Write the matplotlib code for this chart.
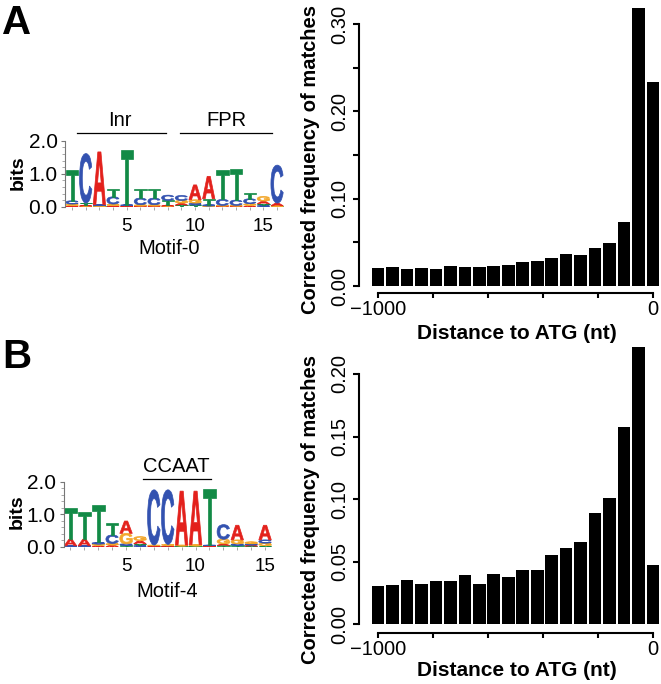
import numpy as np
import matplotlib as mpl
mpl.use('Agg')
import matplotlib.pyplot as plt
from matplotlib.textpath import TextPath
from matplotlib.font_manager import FontProperties
from matplotlib.patches import PathPatch
from matplotlib.transforms import Affine2D

mpl.rcParams['font.family'] = ['Liberation Sans', 'DejaVu Sans']

# ---- data ----
# histogram bin centres (nt upstream of ATG)
dist_centers = np.linspace(-1000, 0, 20)
freq_motif0 = [0.0206, 0.022, 0.020, 0.0206, 0.019, 0.0225, 0.0214, 0.022, 0.0233, 0.024,
               0.027, 0.0287, 0.032, 0.037, 0.036, 0.043, 0.049, 0.073, 0.318, 0.234]
freq_motif4 = [0.0306, 0.0312, 0.0354, 0.032, 0.0346, 0.0346, 0.039, 0.0325, 0.040, 0.0378,
               0.0437, 0.0434, 0.0554, 0.0607, 0.0658, 0.0887, 0.1012, 0.158, 0.2218, 0.0471]

# sequence logo heights (bits) per position, Motif-0
m0_A = [0.03, 0.03, 1.60, 0.03, 0.02, 0.02, 0.02, 0.03, 0.06, 0.45, 0.68, 0.02, 0.02, 0.04, 0.08, 0.08]
m0_C = [0.10, 1.50, 0.03, 0.22, 0.03, 0.20, 0.20, 0.16, 0.15, 0.06, 0.04, 0.18, 0.16, 0.15, 0.04, 1.15]
m0_G = [0.05, 0.02, 0.02, 0.05, 0.01, 0.04, 0.04, 0.02, 0.08, 0.10, 0.02, 0.02, 0.02, 0.05, 0.14, 0.02]
m0_T = [0.92, 0.06, 0.01, 0.24, 1.65, 0.28, 0.28, 0.14, 0.05, 0.05, 0.18, 0.88, 0.95, 0.18, 0.05, 0.01]

# Motif-4
m4_A = [0.20, 0.20, 0.04, 0.05, 0.38, 0.10, 0.02, 0.03, 1.66, 1.65, 0.02, 0.05, 0.45, 0.03, 0.45]
m4_C = [0.02, 0.02, 0.05, 0.26, 0.05, 0.04, 1.70, 1.68, 0.01, 0.01, 0.02, 0.45, 0.05, 0.04, 0.10]
m4_G = [0.01, 0.01, 0.04, 0.05, 0.32, 0.12, 0.02, 0.03, 0.03, 0.04, 0.01, 0.14, 0.12, 0.06, 0.08]
m4_T = [0.95, 0.85, 1.15, 0.36, 0.04, 0.05, 0.01, 0.01, 0.01, 0.01, 1.72, 0.04, 0.04, 0.02, 0.03]

base_colors = {'A': '#e3211c', 'C': '#3352b0', 'G': '#f3a72b', 'T': '#128a46'}

W, H = 661, 684
fig = plt.figure(figsize=(W / 100., H / 100.), dpi=100)


def px_axes(left, top, right, bottom):
    # axes from pixel box (image coords)
    return fig.add_axes([left / W, 1 - bottom / H, (right - left) / W, (bottom - top) / H])


def ftext(x, y, s, **kw):
    fig.text(x / W, 1 - y / H, s, ha='center', va='center', **kw)


letter_font = FontProperties(family='Liberation Sans', weight='bold')
letter_paths = {b: TextPath((0, 0), b, size=1, prop=letter_font) for b in 'ACGT'}


def draw_letter(ax, base, x, y0, h, width=0.9):
    tp = letter_paths[base]
    ext = tp.get_extents()
    t = (Affine2D().translate(-ext.x0, -ext.y0)
         .scale(width / ext.width, h / ext.height)
         .translate(x - width / 2., y0))
    c = base_colors[base]
    ax.add_patch(PathPatch(t.transform_path(tp), fc=c, ec=c, lw=0.5))


def draw_logo(ax, A, C, G, T):
    n = len(A)
    for i in range(n):
        col = {'A': A[i], 'C': C[i], 'G': G[i], 'T': T[i]}
        y = 0
        for b in sorted(col, key=col.get):
            draw_letter(ax, b, i + 1, y, col[b])
            y += col[b]
    ax.set_xlim(0.5, n + 0.5)
    ax.set_ylim(0, 2)
    for s in ['top', 'right', 'bottom']:
        ax.spines[s].set_visible(False)
    ax.spines['left'].set_color('#777777')
    ax.spines['left'].set_linewidth(0.8)
    ax.set_yticks([0, 1, 2])
    ax.set_yticklabels(['0.0', '1.0', '2.0'], fontsize=15)
    ax.set_yticks(np.arange(0, 2.01, 0.2), minor=True)
    ax.tick_params(axis='y', which='major', length=3, width=0.8, color='#777777', pad=2.5)
    ax.tick_params(axis='y', which='minor', length=2, width=0.6, color='#999999')
    ax.set_xticks(np.arange(1, n + 1))
    ax.set_xticklabels([str(i) if i % 5 == 0 else '' for i in range(1, n + 1)], fontsize=13.5)
    ax.tick_params(axis='x', length=2, width=0.6, color='#999999', pad=6)
    ax.patch.set_visible(False)


def hist_panel(ax, vals, ymax, ytop, ystep, label_every, bottom_out):
    ax.bar(dist_centers, vals, width=46, color='black', edgecolor='none')
    ax.set_xlim(-1030, 30)
    ax.set_ylim(0, ytop)
    for s in ['top', 'right']:
        ax.spines[s].set_visible(False)
    for s in ['left', 'bottom']:
        ax.spines[s].set_linewidth(1.5)
    ax.spines['left'].set_position(('outward', 7.7))
    ax.spines['bottom'].set_position(('outward', bottom_out))
    ax.spines['left'].set_bounds(0, ymax)
    ax.spines['bottom'].set_bounds(-1000, 0)
    ax.set_xticks(np.arange(-1000, 1, 200))
    ax.set_xticklabels(['\u22121000', '', '', '', '', '0'], fontsize=14.5)
    yt = np.arange(0, ymax + 1e-9, ystep)
    ax.set_yticks(yt)
    ax.set_yticklabels(['%.2f' % v if i % label_every == 0 else '' for i, v in enumerate(yt)],
                       rotation=90, va='center', fontsize=14.5)
    ax.tick_params(axis='y', length=4.3, width=1.5, pad=3)
    ax.tick_params(axis='x', length=3.6, width=1.5, pad=1.5)
    ax.patch.set_visible(False)


# ---- panel A ----
axA = px_axes(65.2, 140.7, 283.9, 206.7)
draw_logo(axA, m0_A, m0_C, m0_G, m0_T)
axA.text(4.51, 2.6, 'Inr', ha='center', va='center', fontsize=14.5, clip_on=False)
axA.plot([1.34, 7.85], [2.24, 2.24], color='black', lw=0.9, clip_on=False)
axA.text(12.3, 2.6, 'FPR', ha='center', va='center', fontsize=14.5, clip_on=False)
axA.plot([8.9, 15.6], [2.24, 2.24], color='black', lw=0.9, clip_on=False)
ftext(18, 173, 'bits', fontsize=14, fontweight='bold', rotation=90)
ftext(169, 249, 'Motif-0', fontsize=14.5)

hA = px_axes(369.75, 6.6, 661.25, 286)
hist_panel(hA, freq_motif0, 0.30, 0.32, 0.05, 2, 5.3)
ftext(311, 159, 'Corrected frequency of matches', fontsize=14.5, fontweight='bold', rotation=90)
ftext(517, 333, 'Distance to ATG (nt)', fontsize=15, fontweight='bold')

# ---- panel B ----
axB = px_axes(63.5, 481.7, 272, 546.7)
draw_logo(axB, m4_A, m4_C, m4_G, m4_T)
axB.text(8.65, 2.46, 'CCAAT', ha='center', va='center', fontsize=14.5, clip_on=False)
axB.plot([6.24, 11.1], [2.08, 2.08], color='black', lw=0.9, clip_on=False)
ftext(17, 512, 'bits', fontsize=14, fontweight='bold', rotation=90)
ftext(166.7, 591.7, 'Motif-4', fontsize=14.5)

hB = px_axes(369.75, 342.7, 661.25, 624.3)
hist_panel(hB, freq_motif4, 0.20, 0.225, 0.05, 1, 6.0)
ftext(311, 510, 'Corrected frequency of matches', fontsize=14.5, fontweight='bold', rotation=90)
ftext(517, 671, 'Distance to ATG (nt)', fontsize=15, fontweight='bold')

# panel letters
ftext(17, 23, 'A', fontsize=29, fontweight='bold')
ftext(17, 357, 'B', fontsize=29, fontweight='bold')

fig.savefig('out.png', dpi=100)
